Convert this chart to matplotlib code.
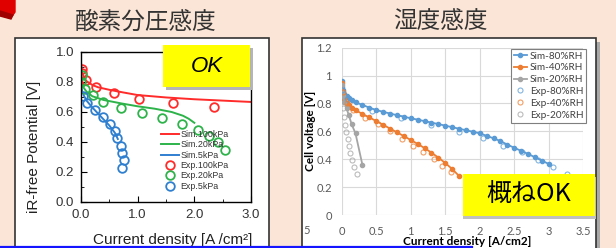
import matplotlib.pyplot as plt
from matplotlib.patches import Rectangle, Polygon
from matplotlib.lines import Line2D
from matplotlib.ticker import MultipleLocator, FormatStrFormatter

plt.rcParams["font.family"] = ["Liberation Sans", "Noto Sans CJK JP"]

# left: oxygen partial pressure
p100_sim_x = [0.0, 0.02, 0.05, 0.1, 0.2, 0.3, 0.5, 0.75, 1.0, 1.5, 2.0, 2.5, 3.0]
p100_sim_y = [0.93, 0.87, 0.83, 0.805, 0.78, 0.765, 0.748, 0.73, 0.713, 0.697, 0.685, 0.676, 0.667]
p20_sim_x = [0.0, 0.02, 0.05, 0.1, 0.2, 0.4, 0.7, 1.0, 1.3, 1.6, 1.8, 1.9, 2.0]
p20_sim_y = [0.87, 0.80, 0.76, 0.735, 0.705, 0.68, 0.658, 0.638, 0.622, 0.60, 0.575, 0.555, 0.528]
p5_sim_x = [0.0, 0.02, 0.05, 0.1, 0.2, 0.3, 0.4, 0.5, 0.6, 0.65]
p5_sim_y = [0.78, 0.74, 0.71, 0.675, 0.63, 0.59, 0.55, 0.51, 0.46, 0.42]

p100_exp_x = [0.01, 0.02, 0.09, 0.27, 0.59, 1.03, 1.62, 2.34]
p100_exp_y = [0.89, 0.86, 0.81, 0.765, 0.725, 0.69, 0.662, 0.635]
p20_exp_x = [0.01, 0.0, 0.07, 0.22, 0.39, 0.70, 1.07, 1.435, 1.79, 2.06, 2.26, 2.41, 2.55]
p20_exp_y = [0.85, 0.80, 0.755, 0.713, 0.67, 0.628, 0.595, 0.558, 0.518, 0.48, 0.44, 0.398, 0.347]
p5_exp_x = [0.04, 0.11, 0.25, 0.38, 0.51, 0.60, 0.64, 0.70, 0.73, 0.76, 0.73]
p5_exp_y = [0.706, 0.66, 0.612, 0.565, 0.518, 0.473, 0.427, 0.375, 0.327, 0.278, 0.227]

# right: humidity
rh80_sim_x = [0, 0.01, 0.02, 0.04, 0.07, 0.1, 0.15, 0.2, 0.3, 0.4, 0.5, 0.6, 0.7, 0.8, 0.9, 1.0, 1.1, 1.2,
              1.3, 1.4, 1.5, 1.6, 1.7, 1.8, 1.9, 2.0, 2.1, 2.2, 2.3, 2.4, 2.5, 2.6, 2.7, 2.8, 2.9, 3.0]
rh80_sim_y = [0.96, 0.92, 0.895, 0.87, 0.853, 0.838, 0.822, 0.808, 0.79, 0.77, 0.753, 0.74, 0.728, 0.716, 0.705, 0.694, 0.684, 0.673,
              0.663, 0.652, 0.641, 0.63, 0.619, 0.608, 0.597, 0.586, 0.568, 0.55, 0.53, 0.505, 0.482, 0.46, 0.438, 0.414, 0.39, 0.366]
rh40_sim_x = [0, 0.01, 0.02, 0.04, 0.07, 0.1, 0.15, 0.2, 0.3, 0.4, 0.5, 0.6, 0.7, 0.8, 0.9, 1.0, 1.1, 1.2,
              1.3, 1.4, 1.5, 1.6, 1.7]
rh40_sim_y = [0.945, 0.89, 0.86, 0.83, 0.805, 0.79, 0.77, 0.752, 0.725, 0.70, 0.674, 0.647, 0.62, 0.593, 0.566, 0.538, 0.51, 0.48,
              0.447, 0.412, 0.373, 0.33, 0.28]
rh20_sim_x = [0, 0.01, 0.02, 0.04, 0.07, 0.1, 0.145, 0.2, 0.3]
rh20_sim_y = [0.93, 0.88, 0.85, 0.81, 0.765, 0.72, 0.65, 0.585, 0.36]

rh80_exp_x = [0.01, 0.08, 0.435, 0.855, 1.30, 1.70, 2.05, 2.34, 2.61, 2.85, 3.06, 3.26]
rh80_exp_y = [0.90, 0.83, 0.748, 0.694, 0.646, 0.598, 0.55, 0.495, 0.45, 0.395, 0.347, 0.294]
rh40_exp_x = [0.02, 0.07, 0.17, 0.34, 0.52, 0.70, 0.87, 1.03, 1.18, 1.34, 1.46, 1.59]
rh40_exp_y = [0.88, 0.80, 0.753, 0.694, 0.65, 0.603, 0.545, 0.497, 0.45, 0.402, 0.352, 0.306]
rh20_exp_x = [0.01, 0.02, 0.03, 0.05, 0.065, 0.085, 0.105, 0.125, 0.15, 0.175, 0.215]
rh20_exp_y = [0.82, 0.765, 0.70, 0.645, 0.598, 0.545, 0.497, 0.445, 0.398, 0.345, 0.297]

rh_xticklabels = ["0", "0.5", "1", "1.5", "2", "2.5", "3", "3.5"]
rh_yticklabels = ["0", "0.2", "0.4", "0.6", "0.8", "1", "1.2"]

W, H = 616, 248
fig = plt.figure(figsize=(W / 100, H / 100), dpi=100, facecolor="#FBE5D6")


def box(x0, y0, x1, y1):
    # pixel box, origin top-left -> figure fraction
    return [x0 / W, 1 - y1 / H, (x1 - x0) / W, (y1 - y0) / H]


def rect(x0, y0, x1, y1, **kw):
    b = box(x0, y0, x1, y1)
    fig.add_artist(Rectangle((b[0], b[1]), b[2], b[3], transform=fig.transFigure, **kw))


def pt(x, y):
    return (x / W, 1 - y / H)


# slide decorations
fig.add_artist(Polygon([pt(0, 0), pt(15, 0), pt(15, 12), pt(13, 15), pt(0, 11)],
                       transform=fig.transFigure, color="#E00000", zorder=-2))
fig.add_artist(Polygon([pt(0, 11), pt(13, 15), pt(11, 19), pt(0, 16)],
                       transform=fig.transFigure, color="#A00000", zorder=-2))
rect(15, 38, 269, 262, facecolor="white", edgecolor="#333333", lw=1.2, zorder=-1)
rect(306, 42, 600, 262, facecolor="#a8a8a8", edgecolor="none", zorder=-1.5)
rect(302, 38, 596, 262, facecolor="white", edgecolor="#333333", lw=1.2, zorder=-1)

fig.text(146 / W, 1 - 22 / H, "酸素分圧感度", fontsize=17, ha="center", va="center",
         color="#333333", family="Noto Sans CJK JP")
fig.text(440 / W, 1 - 22 / H, "湿度感度", fontsize=17, ha="center", va="center",
         color="#333333", family="Noto Sans CJK JP")

# ---- left panel
red, green, blue = "#FF2A2A", "#2DB34A", "#2F7FD0"
ax1 = fig.add_axes(box(81, 52, 251, 202))
ax1.plot(p100_sim_x, p100_sim_y, color=red, lw=1.4, label="Sim.100kPa")
ax1.plot(p20_sim_x, p20_sim_y, color=green, lw=1.4, label="Sim.20kPa")
ax1.plot(p5_sim_x, p5_sim_y, color=blue, lw=1.4, label="Sim.5kPa")
mk = dict(ls="none", marker="o", mfc="none", ms=6.2, mew=1.3)
ax1.plot(p100_exp_x, p100_exp_y, mec=red, label="Exp.100kPa", **mk)
ax1.plot(p20_exp_x, p20_exp_y, mec=green, label="Exp.20kPa", **mk)
ax1.plot(p5_exp_x, p5_exp_y, mec=blue, label="Exp.5kPa", **mk)
ax1.set_xlim(0, 3)
ax1.set_ylim(0, 1)
ax1.xaxis.set_major_locator(MultipleLocator(1.0))
ax1.xaxis.set_minor_locator(MultipleLocator(0.5))
ax1.yaxis.set_major_locator(MultipleLocator(0.2))
ax1.yaxis.set_minor_locator(MultipleLocator(0.1))
ax1.xaxis.set_major_formatter(FormatStrFormatter("%.1f"))
ax1.yaxis.set_major_formatter(FormatStrFormatter("%.1f"))
ax1.tick_params(which="both", direction="in", labelsize=9.5, labelcolor="#333333", pad=5)
ax1.tick_params(which="major", length=4)
ax1.tick_params(which="minor", length=2)
for s in ax1.spines.values():
    s.set_linewidth(1.0)
ax1.set_ylabel("iR-free Potential [V]", fontsize=11, color="#222222")
ax1.yaxis.set_label_coords(-0.235, 0.37)
ax1.set_xlabel("Current density [A /cm²]", fontsize=11, color="#222222")
ax1.xaxis.set_label_coords(0.54, -0.205)
leg1 = ax1.legend(loc="upper left", bbox_to_anchor=(0.47, 0.48), frameon=False, fontsize=6.4,
                  handlelength=2.0, handletextpad=0.2, labelspacing=0.15, borderpad=0,
                  borderaxespad=0)
for t in leg1.get_texts():
    t.set_color("#333333")

rect(166, 48, 253, 90, facecolor="#b5b5b5", edgecolor="none", zorder=4)
rect(163, 45, 250, 87, facecolor="#FFFF00", edgecolor="none", zorder=5)
fig.text(206.5 / W, 1 - 66 / H, "OK", fontsize=16, style="italic", ha="center", va="center", zorder=6)

# ---- right panel
rfont = "Lato"
c80, c40, c20 = "#5B9BD5", "#ED7D31", "#A5A5A5"
ax2 = fig.add_axes(box(341.7, 47.7, 583.3, 215))
sm = dict(marker="o", ms=3, lw=1.3)
ax2.plot(rh80_sim_x, rh80_sim_y, color=c80, label="Sim-80%RH", **sm)
ax2.plot(rh40_sim_x, rh40_sim_y, color=c40, label="Sim-40%RH", **sm)
ax2.plot(rh20_sim_x, rh20_sim_y, color=c20, label="Sim-20%RH", **sm)
em = dict(ls="none", marker="o", mfc="none", ms=3.6, mew=0.8, alpha=0.75)
ax2.plot(rh80_exp_x, rh80_exp_y, mec=c80, label="Exp-80%RH", **em)
ax2.plot(rh40_exp_x, rh40_exp_y, mec=c40, label="Exp-40%RH", **em)
ax2.plot(rh20_exp_x, rh20_exp_y, mec=c20, label="Exp-20%RH", **em)
ax2.set_xlim(0, 3.5)
ax2.set_ylim(0, 1.2)
ax2.set_xticks([i * 0.5 for i in range(len(rh_xticklabels))])
ax2.set_xticklabels(rh_xticklabels)
ax2.set_yticks([i * 0.2 for i in range(len(rh_yticklabels))])
ax2.set_yticklabels(rh_yticklabels)
ax2.tick_params(axis="y", pad=7)
ax2.tick_params(axis="x", pad=8)
ax2.tick_params(length=0, labelsize=8, labelcolor="#595959", labelfontfamily=rfont)
ax2.grid(color="#D9D9D9", lw=0.8)
ax2.set_axisbelow(True)
for s in ax2.spines.values():
    s.set_visible(False)
ax2.set_ylabel("Cell voltage [V]", fontsize=8.5, fontweight="bold", family=rfont)
ax2.yaxis.set_label_coords(-0.105, 0.5)
ax2.set_xlabel("Current density [A/cm2]", fontsize=8.5, fontweight="bold", family=rfont)
ax2.xaxis.set_label_coords(0.52, -0.125)
leg2 = ax2.legend(loc="upper left", bbox_to_anchor=(0.70, 0.995), frameon=True,
                  fancybox=False, framealpha=1, edgecolor="#7F7F7F", handlelength=1.3,
                  handletextpad=0.3, labelspacing=0.28, borderpad=0.3, borderaxespad=0,
                  prop={"family": rfont, "size": 7.2})
leg2.get_frame().set_linewidth(0.8)
for t in leg2.get_texts():
    t.set_color("#404040")
fig.text(303 / W, 1 - 230 / H, "5", fontsize=8, color="#595959", family=rfont, ha="left", va="center")

rect(463, 177, 596, 219, facecolor="#c0c0c0", edgecolor="none", zorder=4)
rect(463, 174, 595, 216, facecolor="#FFFF00", edgecolor="none", zorder=5)
fig.text(529 / W, 1 - 195 / H, "概ねOK", fontsize=18, ha="center", va="center",
         family="Noto Sans CJK JP", zorder=6)

# blue frame edge at the bottom
fig.add_artist(Line2D([0, 472 / W], [1 - 246.5 / H] * 2, transform=fig.transFigure,
                      color="#1515FF", lw=1.6, zorder=7))

fig.savefig("out.png", dpi=100, facecolor=fig.get_facecolor())
